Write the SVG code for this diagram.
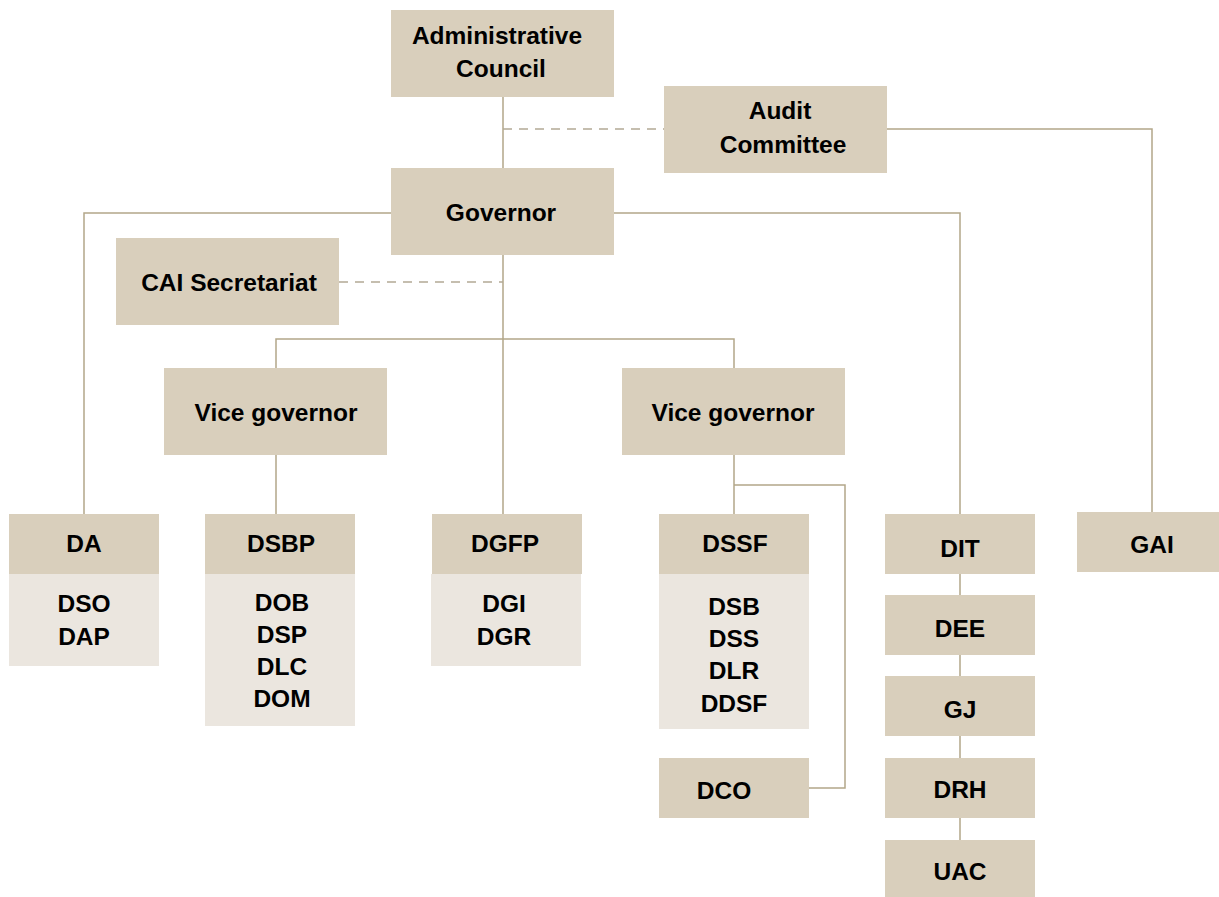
<svg xmlns="http://www.w3.org/2000/svg" width="1219" height="897" viewBox="0 0 1219 897">
<style>
.h{fill:#D9CFBC}
.l{fill:#EBE6DF}
text{font-family:"Liberation Sans",Arial,sans-serif;font-weight:bold;font-size:24.5px;fill:#000;text-anchor:middle}
.c{fill:none;stroke:#B3A789;stroke-width:1.5}
.d{fill:none;stroke:#B3A995;stroke-width:1.5;stroke-dasharray:9 7}
</style>
<rect width="1219" height="897" fill="#fff"/>
<g id="connectors">
<path class="c" d="M503 97V168M503 255V514M84 514V213H391M614 213H960V514M887 129H1152V512M276 368V339H734V368M276 455V514M734 455V514M734 485H845V788H809M960 574V595M960 655V676M960 736V758M960 818V840"/>
<path class="d" d="M503 129H664M339 282H503"/>
</g>
<g id="admin"><rect class="h" x="391" y="10" width="223" height="87"/><text x="497" y="44">Administrative</text><text x="501" y="77">Council</text></g>
<g id="audit"><rect class="h" x="664" y="86" width="223" height="87"/><text x="780" y="119">Audit</text><text x="783" y="153">Committee</text></g>
<g id="governor"><rect class="h" x="391" y="168" width="223" height="87"/><text x="501" y="221">Governor</text></g>
<g id="cai"><rect class="h" x="116" y="238" width="223" height="87"/><text x="229" y="291">CAI Secretariat</text></g>
<g id="vg1"><rect class="h" x="164" y="368" width="223" height="87"/><text x="276" y="421">Vice governor</text></g>
<g id="vg2"><rect class="h" x="622" y="368" width="223" height="87"/><text x="733" y="421">Vice governor</text></g>
<g id="da"><rect class="h" x="9" y="514" width="150" height="60"/><rect class="l" x="9" y="574" width="150" height="92"/><text x="84" y="552">DA</text><text x="84" y="612">DSO</text><text x="84" y="645">DAP</text></g>
<g id="dsbp"><rect class="h" x="205" y="514" width="150" height="60"/><rect class="l" x="205" y="574" width="150" height="152"/><text x="281" y="552">DSBP</text><text x="282" y="611">DOB</text><text x="282" y="643">DSP</text><text x="282" y="675">DLC</text><text x="282" y="707">DOM</text></g>
<g id="dgfp"><rect class="h" x="432" y="514" width="150" height="60"/><rect class="l" x="431" y="574" width="150" height="92"/><text x="505" y="552">DGFP</text><text x="504" y="612">DGI</text><text x="504" y="645">DGR</text></g>
<g id="dssf"><rect class="h" x="659" y="514" width="150" height="60"/><rect class="l" x="659" y="574" width="150" height="155"/><text x="735" y="552">DSSF</text><text x="734" y="615">DSB</text><text x="734" y="647">DSS</text><text x="734" y="679">DLR</text><text x="734" y="712">DDSF</text></g>
<g id="dco"><rect class="h" x="659" y="758" width="150" height="60"/><text x="724" y="799">DCO</text></g>
<g id="dit"><rect class="h" x="885" y="514" width="150" height="60"/><text x="960" y="557">DIT</text></g>
<g id="dee"><rect class="h" x="885" y="595" width="150" height="60"/><text x="960" y="637">DEE</text></g>
<g id="gj"><rect class="h" x="885" y="676" width="150" height="60"/><text x="960" y="718">GJ</text></g>
<g id="drh"><rect class="h" x="885" y="758" width="150" height="60"/><text x="960" y="798">DRH</text></g>
<g id="uac"><rect class="h" x="885" y="840" width="150" height="57"/><text x="960" y="880">UAC</text></g>
<g id="gai"><rect class="h" x="1077" y="512" width="142" height="60"/><text x="1152" y="553">GAI</text></g>
</svg>
